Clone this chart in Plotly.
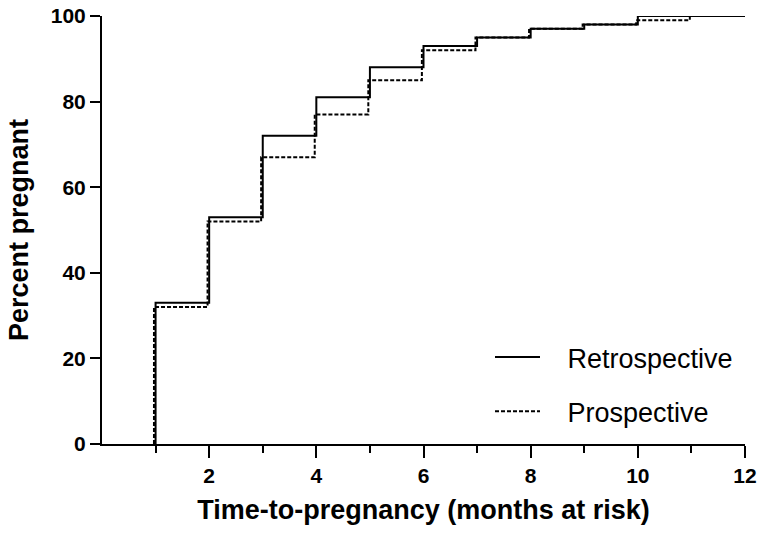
import plotly.graph_objects as go

# Data
months_retro = [1, 1, 2, 3, 4, 5, 6, 7, 8, 9, 10, 12]
pct_retro = [0, 33, 53, 72, 81, 88, 93, 95, 97, 98, 100, 100]

months_pro = [1, 1, 2, 3, 4, 5, 6, 7, 8, 9, 10, 11]
pct_pro = [0, 32, 52, 67, 77, 85, 92, 95, 97, 98, 99, 100]

x_major_ticks = [2, 4, 6, 8, 10, 12]
x_minor_ticks = [1, 3, 5, 7, 9, 11]
y_ticks = [0, 20, 40, 60, 80, 100]

series_names = ["Retrospective", "Prospective"]

FONT = "Liberation Sans, Arial, sans-serif"
W, H = 764, 538
ML, MR, MT, MB = 102, 19, 16, 94
PW, PH = W - ML - MR, H - MT - MB

# small visual nudge so the dotted steps sit beside the solid ones
nudge = 0.03
x_pro_plot = [m - nudge for m in months_pro]

fig = go.Figure()
fig.add_trace(go.Scatter(
    x=months_retro, y=pct_retro, mode="lines", line_shape="hv",
    line=dict(color="black", width=2), name="\u00a0\u00a0\u00a0" + series_names[0],
    legendgroup="a"))
fig.add_trace(go.Scatter(
    x=x_pro_plot, y=pct_pro, mode="lines", line_shape="hv",
    line=dict(color="black", width=2, dash="4px,2px"), name="\u00a0\u00a0\u00a0" + series_names[1],
    legendgroup="b"))

fig.update_layout(
    width=W, height=H,
    margin=dict(l=ML, r=MR, t=MT, b=MB, autoexpand=False),
    paper_bgcolor="white", plot_bgcolor="white",
    font=dict(family=FONT, color="black"),
    legend=dict(
        x=(490 - ML) / PW, y=(H - MB - 333) / PH, xanchor="left", yanchor="top",
        font=dict(size=27, family=FONT, color="black"),
        bgcolor="rgba(0,0,0,0)", borderwidth=0,
        tracegroupgap=16, traceorder="grouped",
        itemwidth=45,
    ),
    showlegend=True,
)

fig.update_xaxes(
    range=[0, 12], showgrid=False, zeroline=False,
    showline=True, linecolor="black", linewidth=2,
    tickmode="array", tickvals=x_major_ticks,
    ticktext=[str(v) for v in x_major_ticks],
    ticks="outside", ticklen=12, tickwidth=2, tickcolor="black",
    tickfont=dict(size=21, family=FONT, weight="bold", color="black"),
    minor=dict(tickmode="array", tickvals=x_minor_ticks, ticks="outside",
               ticklen=7, tickwidth=2, tickcolor="black"),
    title=dict(text="Time-to-pregnancy (months at risk)",
               font=dict(size=27, family=FONT, weight="bold", color="black"),
               standoff=14),
    automargin=False,
)
fig.update_yaxes(
    range=[0, 100], showgrid=False, zeroline=False,
    showline=True, linecolor="black", linewidth=2,
    tickmode="array", tickvals=y_ticks,
    ticks="outside", ticklen=10, tickwidth=2, tickcolor="black",
    tickfont=dict(size=21, family=FONT, weight="bold", color="black"),
    title=dict(text="Percent pregnant",
               font=dict(size=27, family=FONT, weight="bold", color="black"),
               standoff=14),
    automargin=False,
)

fig.write_html(
    "out.html",
    config={"displayModeBar": False},
    post_script="document.body.style.margin='0';document.body.style.overflow='hidden';",
)
